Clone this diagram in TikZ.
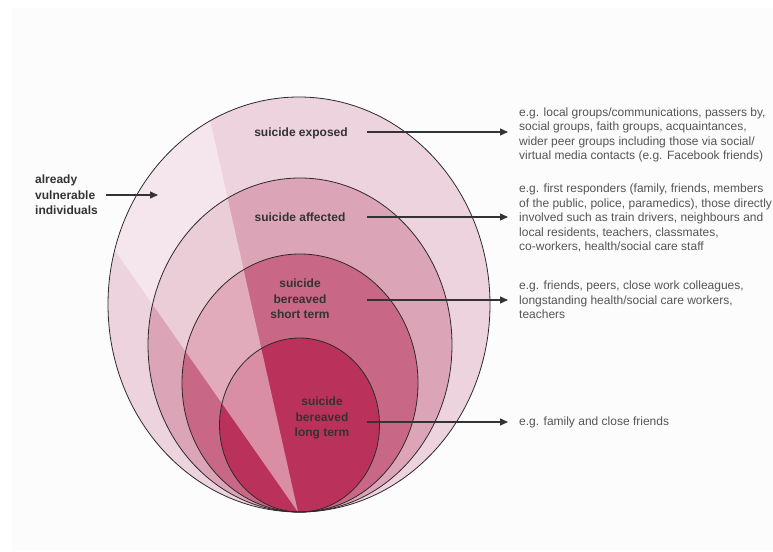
\documentclass[tikz,border=0pt]{standalone}
\usepackage{fontspec}
\setmainfont{Liberation Sans}
\usetikzlibrary{arrows.meta}
\definecolor{exposed}{HTML}{ECD3DD}
\definecolor{affected}{HTML}{DCA5B7}
\definecolor{shortterm}{HTML}{C96786}
\definecolor{longterm}{HTML}{BA325C}
\definecolor{rim}{HTML}{2E2A2C}
\definecolor{ink}{HTML}{333333}
\definecolor{grey}{HTML}{555555}
\definecolor{panel}{HTML}{FCFCFC}
\tikzset{
  ring/.style={draw=rim, line width=0.8pt},
  tag/.style={font=\bfseries\fontsize{12}{15.5}\selectfont, text=ink, align=center, inner sep=0pt},
  desc/.style={font=\fontsize{12}{14.5}\selectfont, text=grey, align=left, anchor=west, inner sep=0pt},
  pointer/.style={draw=ink, line width=1.1pt, -{Triangle[length=8pt,width=7pt]}, shorten >=11pt}
}

\begin{document}
\begin{tikzpicture}[x=1pt,y=-1pt]
\useasboundingbox (0,0) rectangle (773,551);
\fill[panel] (12,8) rectangle (773,551);
\coordinate (O) at (298,512);
\foreach \cx/\cy/\rx/\ry/\c in {299/304.5/191/207.5/exposed,300/345/152/167/affected,300/383/118/129/shortterm,299.5/425/80/87/longterm}
    \fill[\c] (\cx,\cy) ellipse [x radius=\rx, y radius=\ry];
\begin{scope}
\clip (299,304.5) ellipse [x radius=191, y radius=207.5];
\fill[white, opacity=.45] (O) -- (-17,62) -- (197,62) -- cycle;
\end{scope}
\foreach \cx/\cy/\rx/\ry in {299/304.5/191/207.5,300/345/152/167,300/383/118/129,299.5/425/80/87}
    \draw[ring] (\cx,\cy) ellipse [x radius=\rx, y radius=\ry];

\node[tag] (exp) at (301,133) {suicide exposed};
\node[tag] (aff) at (300,217) {suicide affected};
\node[tag] (sbs) at (300,299) {suicide\\bereaved\\short term};
\node[tag] (sbl) at (322,418) {suicide\\bereaved\\long term};
\node[tag, align=left, anchor=west] (vul) at (35,195) {already\\vulnerable\\individuals};

\node[desc] (d1) at (519,135) {e.g. local groups/communications, passers by,\\social groups, faith groups, acquaintances,\\wider peer groups including those via social/\\virtual media contacts (e.g. Facebook friends)};
\node[desc] (d2) at (519,218) {e.g. first responders (family, friends, members\\of the public, police, paramedics), those directly\\involved such as train drivers, neighbours and\\local residents, teachers, classmates,\\co-workers, health/social care staff};
\node[desc] (d3) at (519,300) {e.g. friends, peers, close work colleagues,\\longstanding health/social care workers,\\teachers};
\node[desc] (d4) at (519,422) {e.g. family and close friends};

\foreach \i/\y in {1/132,2/217,3/300,4/422} {
    \coordinate (a\i) at (367,\y);
    \draw[pointer] (a\i) -- (a\i -| d\i.west);
}
\coordinate (vtip) at (158,195);
\draw[pointer, shorten >=0pt] ([xshift=8pt]vul.east) -- (vtip);
\end{tikzpicture}
\end{document}
